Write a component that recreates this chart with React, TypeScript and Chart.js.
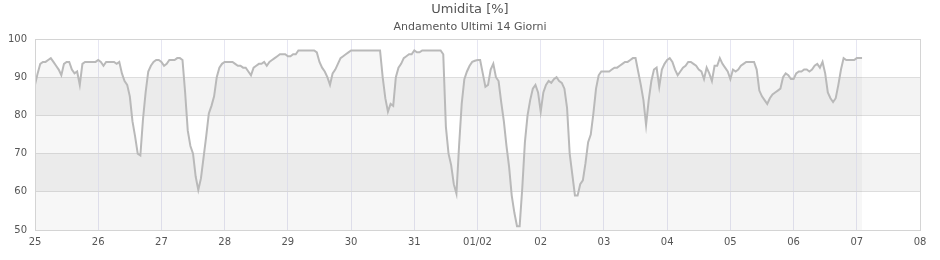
import React, { useEffect, useRef } from "react";
import { Chart, registerables } from "chart.js";

Chart.register(...registerables);

const TITLE = "Umidita [%]";
const SUBTITLE = "Andamento Ultimi 14 Giorni";

const xLabels = ["25", "26", "27", "28", "29", "30", "31", "01/02", "02", "03", "04", "05", "06", "07", "08"];
const yTicks = [50, 60, 70, 80, 90, 100];
const bands = [
  [80, 90],
  [60, 70],
];

// hourly humidity values, one array per day
const d25 = [88, 91, 93.5, 94, 94, 94.5, 95, 94, 93, 92, 90.5, 93.5, 94, 94, 92, 91, 91.5, 88, 93.5, 94, 94, 94, 94, 94];
const d26 = [94.5, 94, 93, 94, 94, 94, 94, 93.5, 94, 91, 89, 88, 85, 78.5, 74.5, 70, 69.5, 79, 86, 91.5, 93, 94, 94.5, 94.5];
const d27 = [94, 93, 93.5, 94.5, 94.5, 94.5, 95, 95, 94.5, 86, 76, 72, 70, 64, 60.5, 63.5, 69, 74.5, 80.5, 82.5, 85, 90, 92.5, 93.5];
const d28 = [94, 94, 94, 94, 93.5, 93, 93, 92.5, 92.5, 91.5, 90.5, 92.5, 93, 93.5, 93.5, 94, 93, 94, 94.5, 95, 95.5, 96, 96, 96];
const d29 = [95.5, 95.5, 96, 96, 97, 97, 97, 97, 97, 97, 97, 96.5, 94, 92.5, 91.5, 90, 88, 91, 92, 93.5, 95, 95.5, 96, 96.5];
const d30 = [97, 97, 97, 97, 97, 97, 97, 97, 97, 97, 97, 97, 90, 84.5, 81, 83, 82.5, 90, 92.5, 93.5, 95, 95.5, 96, 96];
const d31 = [97, 96.5, 96.5, 97, 97, 97, 97, 97, 97, 97, 97, 96, 77, 70, 67, 62, 59.5, 72, 83, 89.5, 91.5, 93, 94, 94.3];
const d01 = [94.5, 94.5, 91, 87.5, 88, 92, 93.5, 90, 89, 83.5, 78.5, 72, 66.5, 59, 54.5, 51, 51, 61, 73, 80, 84, 87, 88, 86];
const d02 = [81, 86, 88, 89, 88.5, 89.5, 90, 89, 88.5, 87, 82, 70, 64.5, 59, 59, 62, 63, 67.5, 73, 75, 80.5, 87, 90.5, 91.5];
const d03 = [91.5, 91.5, 91.5, 92, 92.5, 92.5, 93, 93.5, 94, 94, 94.5, 95, 95, 91.5, 88, 84, 77.5, 84, 89, 92, 92.5, 87.5, 92, 93.5];
const d04 = [94.5, 95, 94, 92, 90.5, 91.5, 92.5, 93, 94, 94, 93.5, 93, 92, 91.5, 89.5, 92.5, 91, 89, 93, 93, 95, 93.5, 92.5, 91.5];
const d05 = [89.5, 92, 91.5, 92, 93, 93.5, 94, 94, 94, 94, 92, 86.5, 85, 84, 83, 84.5, 85.5, 86, 86.5, 87, 90, 91, 90.5, 89.5];
const d06 = [89.5, 91, 91.5, 91.5, 92, 92, 91.5, 92, 93, 93.5, 92.5, 94, 91, 86, 84.5, 83.5, 84.5, 88, 92, 95, 94.5, 94.5, 94.5, 94.5];
const d07 = [95, 95, 95];

const humidity = [...d25, ...d26, ...d27, ...d28, ...d29, ...d30, ...d31, ...d01, ...d02, ...d03, ...d04, ...d05, ...d06, ...d07];

const FONT = "'DejaVu Sans', sans-serif";

const decorPlugin = {
  id: "decor",
  beforeDraw(chart: any) {
    const { ctx, chartArea, scales } = chart;
    const y = scales.y;
    ctx.save();
    ctx.fillStyle = "#ffffff";
    ctx.fillRect(0, 0, chart.width, chart.height);
    ctx.fillStyle = "#f3f3f3";
    for (const [lo, hi] of bands) {
      const top = y.getPixelForValue(hi);
      const bot = y.getPixelForValue(lo);
      ctx.fillRect(chartArea.left, top, chartArea.right - chartArea.left, bot - top);
    }
    ctx.restore();
  },
  afterDraw(chart: any) {
    const { ctx, chartArea } = chart;
    ctx.save();
    ctx.strokeStyle = "#d4d4d4";
    ctx.lineWidth = 1;
    ctx.strokeRect(
      Math.round(chartArea.left) + 0.5,
      Math.round(chartArea.top) + 0.5,
      Math.round(chartArea.right - chartArea.left),
      Math.round(chartArea.bottom - chartArea.top)
    );
    ctx.textAlign = "center";
    ctx.textBaseline = "middle";
    ctx.fillStyle = "#555555";
    ctx.font = `13px ${FONT}`;
    ctx.fillText(TITLE, chart.width / 2, 10);
    ctx.font = `11px ${FONT}`;
    ctx.fillText(SUBTITLE, chart.width / 2, 27);
    ctx.restore();
  },
};

export default function App() {
  const ref = useRef<HTMLCanvasElement>(null);

  useEffect(() => {
    const canvas = ref.current;
    if (!canvas) return;
    const points = humidity.map((v, i) => ({ x: i / 24, y: v }));
    const chart = new Chart(canvas, {
      type: "line",
      data: {
        datasets: [
          {
            data: points,
            borderColor: "#b9b9b9",
            borderWidth: 2,
            backgroundColor: "rgba(0,0,0,0.03)",
            fill: "start",
            pointRadius: 0,
            tension: 0,
          },
        ],
      },
      plugins: [decorPlugin],
      options: {
        responsive: false,
        animation: false,
        devicePixelRatio: 1,
        layout: { padding: { top: 39, right: 20, left: 0, bottom: 0 } },
        plugins: { legend: { display: false }, tooltip: { enabled: false }, title: { display: false } },
        scales: {
          x: {
            type: "linear",
            min: 0,
            max: 14,
            afterFit: (s: any) => {
              s.height = 30;
            },
            afterBuildTicks: (s: any) => {
              s.ticks = xLabels.map((_, i) => ({ value: i }));
            },
            ticks: {
              autoSkip: false,
              maxRotation: 0,
              padding: 6,
              color: "#555555",
              font: { family: FONT, size: 10 },
              callback: (v: any) => xLabels[Math.round(Number(v))] ?? "",
            },
            grid: { color: "#e6e6f2", drawTicks: false },
            border: { display: true, color: "#d4d4d4" },
          },
          y: {
            min: 50,
            max: 100,
            afterFit: (s: any) => {
              s.width = 35;
            },
            afterBuildTicks: (s: any) => {
              s.ticks = yTicks.map((v) => ({ value: v }));
            },
            ticks: {
              padding: 8,
              color: "#555555",
              font: { family: FONT, size: 10 },
            },
            grid: { color: "#dddddd", drawTicks: false },
            border: { display: true, color: "#d4d4d4" },
          },
        },
      },
    });
    return () => chart.destroy();
  }, []);

  return (
    <div style={{ position: "absolute", left: 0, top: 0, width: 940, height: 260, background: "#fff" }}>
      <canvas ref={ref} width={940} height={260} style={{ width: 940, height: 260, display: "block" }} />
    </div>
  );
}
